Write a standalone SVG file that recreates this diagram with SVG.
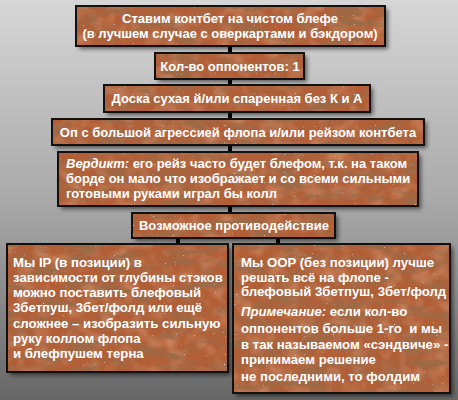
<svg xmlns="http://www.w3.org/2000/svg" width="458" height="400" viewBox="0 0 458 400">
<defs>
  <linearGradient id="bg" x1="0" y1="0" x2="0" y2="1">
    <stop offset="0" stop-color="#d6d6d6"/>
    <stop offset="0.5" stop-color="#a9a9a9"/>
    <stop offset="1" stop-color="#676767"/>
  </linearGradient>
  <filter id="grain" filterUnits="objectBoundingBox" x="0" y="0" width="1" height="1">
    <feTurbulence type="fractalNoise" baseFrequency="0.03 0.1" numOctaves="4" seed="7" result="n"/>
    <feColorMatrix in="n" type="matrix" values="0 0 0 0 0.34  0 0 0 0 0.14  0 0 0 0 0.06  3.4 0 0 0 -1.45" result="dark"/>
    <feTurbulence type="fractalNoise" baseFrequency="0.06" numOctaves="2" seed="21" result="n2"/>
    <feColorMatrix in="n2" type="matrix" values="0 0 0 0 0.8  0 0 0 0 0.46  0 0 0 0 0.28  0 1.0 0 0 -0.45" result="light"/>
    <feTurbulence type="fractalNoise" baseFrequency="0.9" numOctaves="1" seed="5" result="n3"/>
    <feColorMatrix in="n3" type="matrix" values="0 0 0 0 1  0 0 0 0 1  0 0 0 0 1  8 0 0 0 -5.9" result="spk"/>
    <feMerge result="m">
      <feMergeNode in="light"/>
      <feMergeNode in="dark"/>
      <feMergeNode in="spk"/>
    </feMerge>
    <feComposite in="m" in2="SourceGraphic" operator="in"/>
  </filter>
  <filter id="shadow" x="-10%" y="-20%" width="130%" height="150%">
    <feGaussianBlur stdDeviation="2"/>
  </filter>
  <style>
    .sh { fill: #000; opacity: 0.55; filter: url(#shadow); }
    .base { fill: #b25f37; }
    .tex { fill: #000; filter: url(#grain); }
    .bd { fill: none; stroke: #111; stroke-width: 2; }
    .t { font-family: "Liberation Sans", Arial, sans-serif; font-weight: bold; font-size: 13px; fill: #ffffff; }
    .b { font-size: 13.2px; }
    .c { text-anchor: middle; }
    .i { font-style: italic; }
    .cn { stroke: #000; stroke-width: 4; fill: none; }
  </style>
</defs>
<rect x="0" y="0" width="458" height="400" fill="url(#bg)"/>

<g id="connectors">
  <line class="cn" x1="230" y1="46" x2="230" y2="53"/>
  <line class="cn" x1="230" y1="79" x2="230" y2="85"/>
  <line class="cn" x1="230" y1="112" x2="230" y2="119"/>
  <line class="cn" x1="230" y1="145" x2="230" y2="152"/>
  <line class="cn" x1="230" y1="206" x2="230" y2="213"/>
  <line class="cn" x1="178" y1="238" x2="178" y2="244"/>
  <line class="cn" x1="278" y1="238" x2="278" y2="244"/>
</g>

<g id="n1">
  <rect class="sh" x="79" y="9" width="309" height="40"/>
  <rect class="base" x="76" y="6" width="309" height="40"/>
  <rect class="tex" x="76" y="6" width="309" height="40"/>
  <rect class="bd" x="76" y="6" width="309" height="40"/>
  <text class="t c" x="230" y="23">Ставим контбет на чистом блефе</text>
  <text class="t c" x="230" y="38">(в лучшем случае с оверкартами и бэкдором)</text>
</g>

<g id="n2">
  <rect class="sh" x="158" y="56" width="149" height="26"/>
  <rect class="base" x="155" y="53" width="149" height="26"/>
  <rect class="tex" x="155" y="53" width="149" height="26"/>
  <rect class="bd" x="155" y="53" width="149" height="26"/>
  <text class="t c" x="230" y="71">Кол-во оппонентов: 1</text>
</g>

<g id="n3">
  <rect class="sh" x="107" y="88" width="266" height="27"/>
  <rect class="base" x="104" y="85" width="266" height="27"/>
  <rect class="tex" x="104" y="85" width="266" height="27"/>
  <rect class="bd" x="104" y="85" width="266" height="27"/>
  <text class="t c" x="237" y="103">Доска сухая й/или спаренная без К и А</text>
</g>

<g id="n4">
  <rect class="sh" x="55" y="122" width="372" height="26"/>
  <rect class="base" x="52" y="119" width="372" height="26"/>
  <rect class="tex" x="52" y="119" width="372" height="26"/>
  <rect class="bd" x="52" y="119" width="372" height="26"/>
  <text class="t c" x="238" y="137">Оп с большой агрессией флопа и/или рейзом контбета</text>
</g>

<g id="n5">
  <rect class="sh" x="61" y="155" width="360" height="54"/>
  <rect class="base" x="58" y="152" width="360" height="54"/>
  <rect class="tex" x="58" y="152" width="360" height="54"/>
  <rect class="bd" x="58" y="152" width="360" height="54"/>
  <text class="t" x="66" y="168"><tspan class="i">Вердикт:</tspan> его рейз часто будет блефом, т.к. на таком</text>
  <text class="t" x="66" y="183">борде он мало что изображает и со всеми сильными</text>
  <text class="t" x="66" y="198">готовыми руками играл бы колл</text>
</g>

<g id="n6">
  <rect class="sh" x="135" y="216" width="203" height="25"/>
  <rect class="base" x="132" y="213" width="203" height="25"/>
  <rect class="tex" x="132" y="213" width="203" height="25"/>
  <rect class="bd" x="132" y="213" width="203" height="25"/>
  <text class="t c" x="234" y="230">Возможное противодействие</text>
</g>

<g id="n7">
  <rect class="sh" x="10" y="247" width="221" height="128"/>
  <rect class="base" x="7" y="244" width="221" height="128"/>
  <rect class="tex" x="7" y="244" width="221" height="128"/>
  <rect class="bd" x="7" y="244" width="221" height="128"/>
  <text class="t b" x="13" y="267">Мы IP (в позиции) в</text>
  <text class="t b" x="13" y="282">зависимости от глубины стэков</text>
  <text class="t b" x="13" y="297">можно поставить блефовый</text>
  <text class="t b" x="13" y="312">3бетпуш, 3бет/фолд или ещё</text>
  <text class="t b" x="13" y="328">сложнее – изобразить сильную</text>
  <text class="t b" x="13" y="343">руку коллом флопа</text>
  <text class="t b" x="13" y="358">и блефпушем терна</text>
</g>

<g id="n8">
  <rect class="sh" x="236" y="247" width="217" height="149"/>
  <rect class="base" x="233" y="244" width="217" height="149"/>
  <rect class="tex" x="233" y="244" width="217" height="149"/>
  <rect class="bd" x="233" y="244" width="217" height="149"/>
  <text class="t b" x="241" y="267">Мы OOP (без позиции) лучше</text>
  <text class="t b" x="241" y="282">решать всё на флопе -</text>
  <text class="t b" x="241" y="296">блефовый 3бетпуш, 3бет/фолд</text>
  <text class="t b" x="241" y="316"><tspan class="i">Примечание:</tspan> если кол-во</text>
  <text class="t b" x="241" y="333" xml:space="preserve">оппонентов больше 1-го  и мы</text>
  <text class="t b" x="241" y="349">в так называемом «сэндвиче» -</text>
  <text class="t b" x="241" y="364">принимаем решение</text>
  <text class="t b" x="241" y="381">не последними, то фолдим</text>
</g>
</svg>
